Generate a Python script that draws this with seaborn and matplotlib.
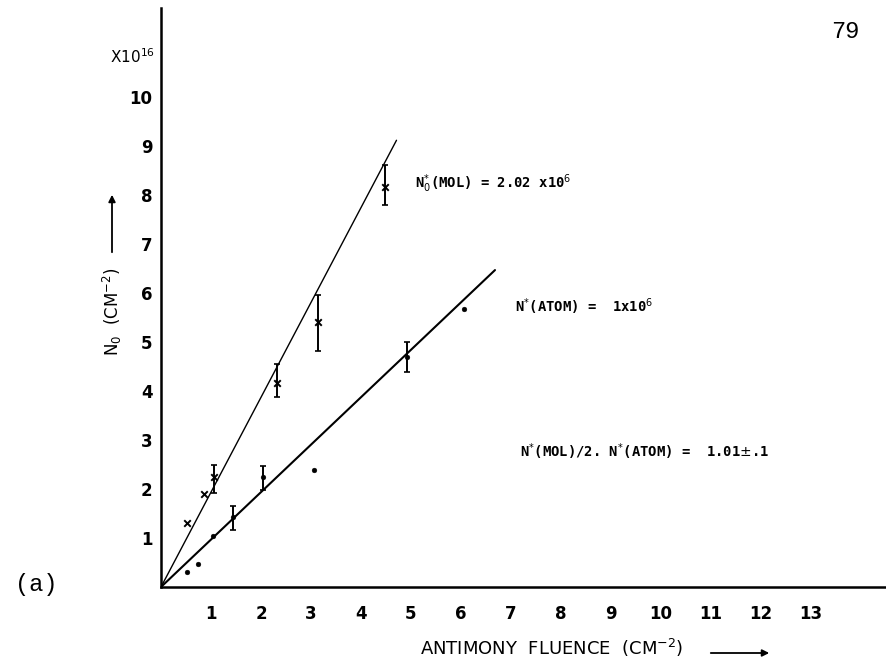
import numpy as np
import pandas as pd
import matplotlib
matplotlib.use("Agg")
import matplotlib.pyplot as plt
import seaborn as sns

# ---- data ----
mol_x = [0.51, 0.85, 1.05, 2.32, 3.13, 4.48]
mol_y = [1.31, 1.89, 2.24, 4.17, 5.40, 8.17]
mol_err_x = [1.05, 2.32, 3.13, 4.48]
mol_err_lo = [1.92, 3.87, 4.81, 7.80]
mol_err_hi = [2.50, 4.56, 5.97, 8.61]

atom_x = [0.51, 0.73, 1.03, 1.43, 2.03, 3.05, 4.91, 6.07]
atom_y = [0.31, 0.46, 1.04, 1.42, 2.24, 2.39, 4.70, 5.67]
atom_err_x = [1.43, 2.03, 4.91]
atom_err_lo = [1.16, 1.99, 4.39]
atom_err_hi = [1.65, 2.47, 5.01]

mol_fit_x = [0.0, 4.71]
mol_fit_y = [0.0, 9.12]
atom_fit_x = [0.0, 6.68]
atom_fit_y = [0.0, 6.47]

x_ticks = list(range(1, 14))
y_ticks = list(range(1, 11))

sns.set_theme(style="white")
plt.rcParams['font.family'] = ['DejaVu Sans']

W, H = 886, 672
fig = plt.figure(figsize=(W / 100, H / 100), dpi=100)
ax = fig.add_axes([161 / W, 85 / H, 724 / W, 579 / H])
ax.set_xlim(0, 14.48)
ax.set_ylim(0, 11.82)

# fit lines
sns.lineplot(x=mol_fit_x, y=mol_fit_y, color="black", lw=1.0, ax=ax)
sns.lineplot(x=atom_fit_x, y=atom_fit_y, color="black", lw=1.5, ax=ax)

# error bars
mc = (np.array(mol_err_lo) + np.array(mol_err_hi)) / 2
me = (np.array(mol_err_hi) - np.array(mol_err_lo)) / 2
ax.errorbar(mol_err_x, mc, yerr=me, fmt="none", ecolor="black",
            elinewidth=1.4, capsize=2.5, capthick=1.2)
ac = (np.array(atom_err_lo) + np.array(atom_err_hi)) / 2
ae = (np.array(atom_err_hi) - np.array(atom_err_lo)) / 2
ax.errorbar(atom_err_x, ac, yerr=ae, fmt="none", ecolor="black",
            elinewidth=1.4, capsize=2.5, capthick=1.2)

# markers
sns.scatterplot(x=mol_x, y=mol_y, marker="x", s=22, color="black",
                linewidth=1.4, ax=ax)
sns.scatterplot(x=atom_x, y=atom_y, marker="o", s=12, color="black",
                edgecolor="black", ax=ax)

# axes styling
for s in ["top", "right"]:
    ax.spines[s].set_visible(False)
for s in ["left", "bottom"]:
    ax.spines[s].set_linewidth(1.8)
    ax.spines[s].set_color("black")
ax.set_xticks(x_ticks)
ax.set_yticks(y_ticks)
ax.set_xticklabels([str(t) for t in x_ticks], fontsize=12, fontweight="bold")
ax.set_yticklabels([str(t) for t in y_ticks], fontsize=12, fontweight="bold")
ax.tick_params(axis="x", direction="in", length=3, width=1.2, pad=13,
               colors="black")
ax.tick_params(axis="y", direction="in", length=3, width=1.2, pad=6,
               colors="black")
ax.set_xlabel("")
ax.set_ylabel("")

# scale factor
ax.text(-0.12, 10.82, r"X10$^{16}$", fontsize=11, ha="right", va="center",
        color="black")

# annotations (stencil-like lettering -> monospace)
mono = "DejaVu Sans Mono"
ax.text(5.08, 8.24, r"N$_0^{*}$(MOL) = 2.02 x10$^{6}$", fontsize=10,
        family=mono, fontweight="bold", ha="left", va="center", color="black")
ax.text(7.08, 5.73, r"N$^{*}$(ATOM) =  1x10$^{6}$", fontsize=10,
        family=mono, fontweight="bold", ha="left", va="center", color="black")
ax.text(7.18, 2.76, r"N$^{*}$(MOL)/2. N$^{*}$(ATOM) =  1.01$\pm$.1",
        fontsize=10, family=mono, fontweight="bold", ha="left", va="center",
        color="black")

# axis titles with arrows (figure pixel coordinates)
def fx(px):
    return px / W

def fy(py):
    return 1 - py / H

fig.text(fx(112), fy(312), r"N$_0$  (CM$^{-2}$)", rotation=90, fontsize=12,
         ha="center", va="center", color="black")
fig.add_artist(matplotlib.patches.FancyArrowPatch(
    (fx(112), fy(255)), (fx(112), fy(192)), transform=fig.transFigure,
    arrowstyle="-|>", mutation_scale=10, lw=1.3, color="black"))

fig.text(fx(420), fy(648), r"ANTIMONY  FLUENCE  (CM$^{-2}$)", fontsize=13,
         ha="left", va="center", color="black")
fig.add_artist(matplotlib.patches.FancyArrowPatch(
    (fx(708), fy(653)), (fx(772), fy(653)), transform=fig.transFigure,
    arrowstyle="-|>", mutation_scale=10, lw=1.3, color="black"))

fig.text(fx(36), fy(585), "(a)", fontsize=17, family="Liberation Mono",
         ha="center", va="center", color="black")
fig.text(fx(845), fy(32), "79", fontsize=17, family="Liberation Mono",
         ha="center", va="center", color="black")

fig.savefig("out.png", dpi=100, facecolor="white")
